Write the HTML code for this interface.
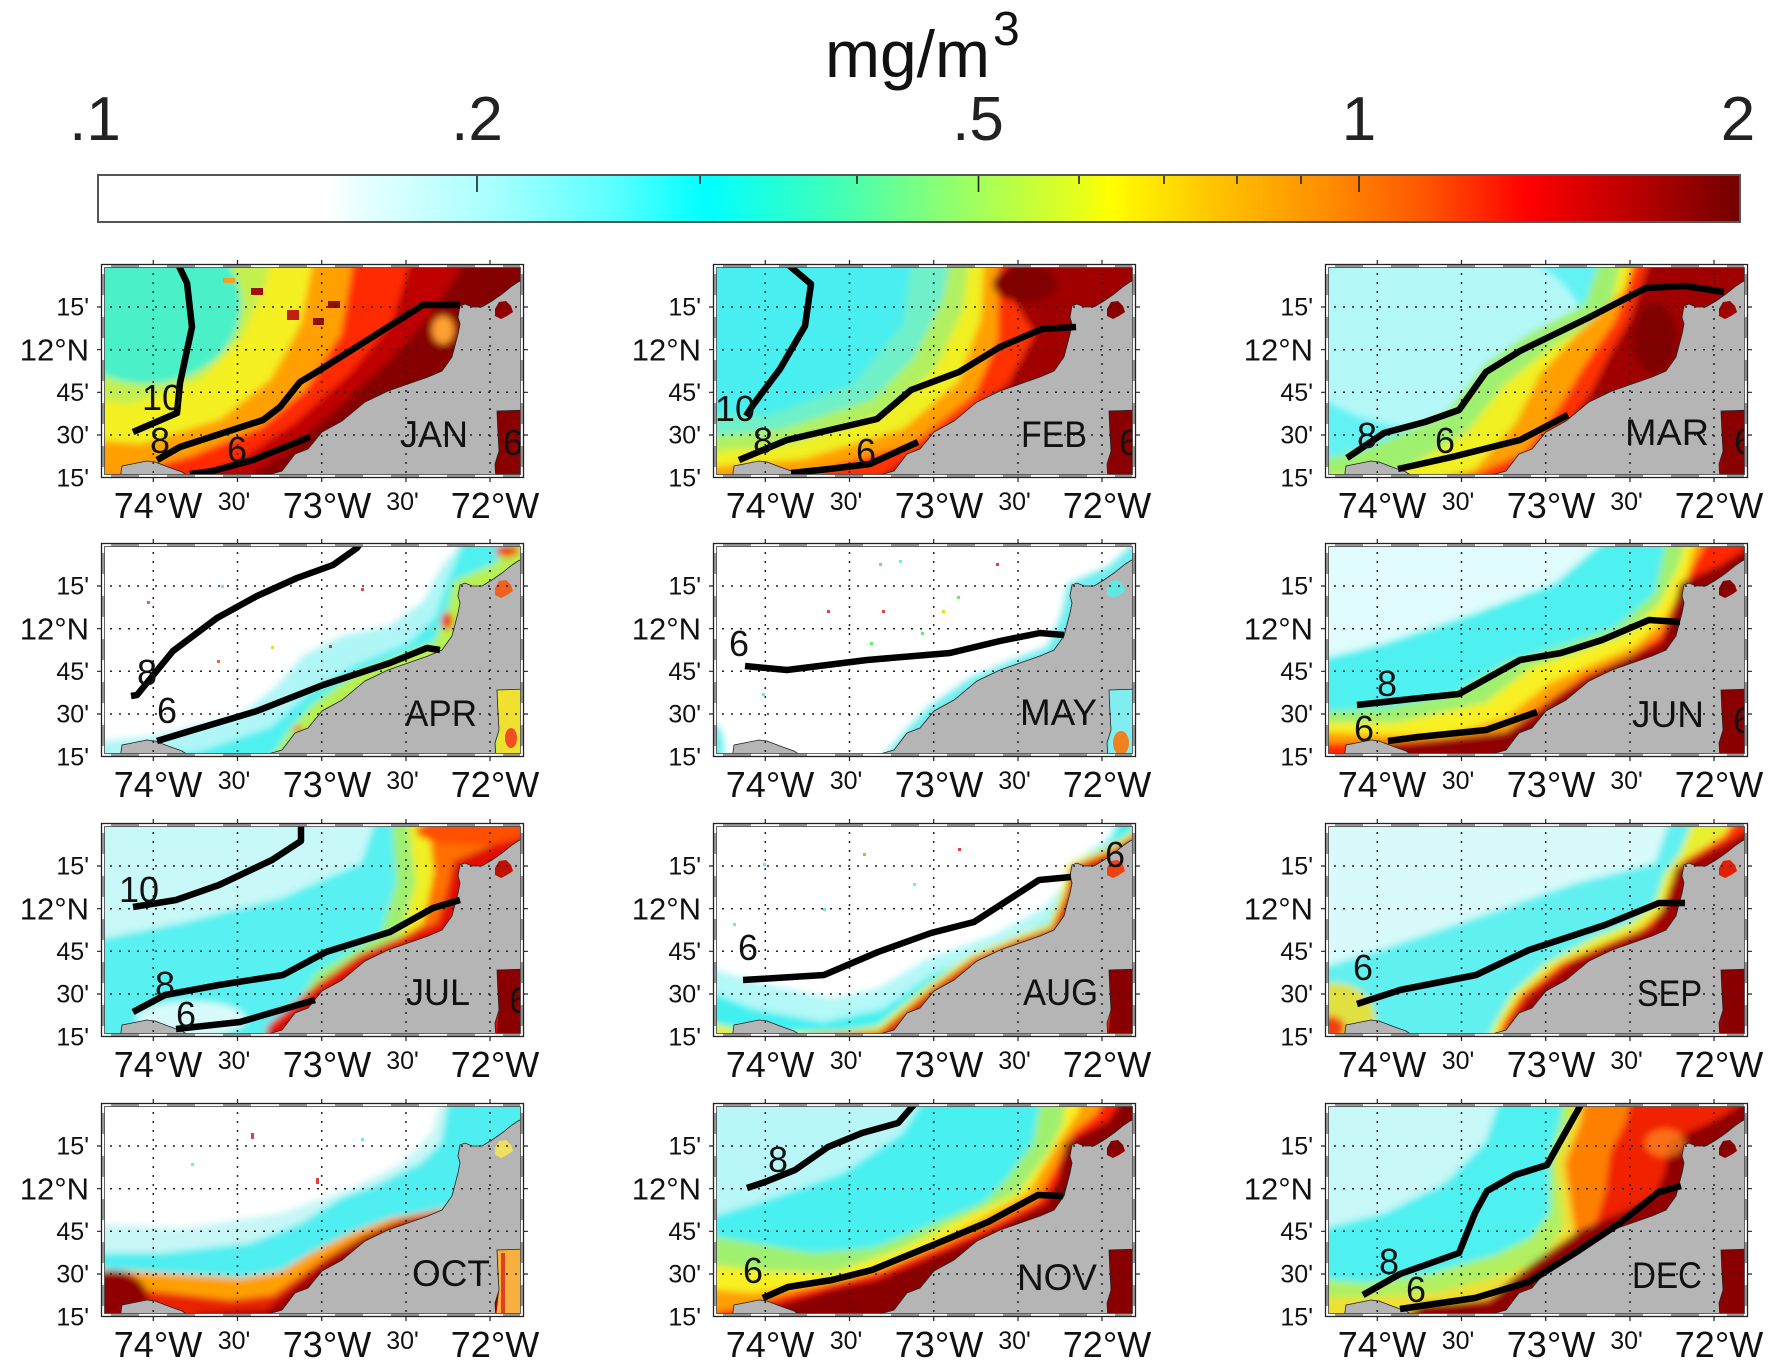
<!DOCTYPE html>
<html><head><meta charset="utf-8"><style>
html,body{margin:0;padding:0;background:#fff;}
svg{display:block;}
text{font-family:"Liberation Sans",Arial,sans-serif;fill:#111;}
.lm{font-size:25px;text-anchor:end;}
.ld{font-size:31px;text-anchor:end;}
.xd{font-size:36px;text-anchor:middle;}
.xm{font-size:25px;text-anchor:middle;}
.mo{font-size:37px;}
.cl{font-size:36px;}
.ct{fill:none;stroke:#000;stroke-width:6.5;stroke-linejoin:round;stroke-linecap:butt;}
.cb{font-size:62px;text-anchor:middle;fill:#222;}
</style></head><body>
<svg width="1772" height="1367" viewBox="0 0 1772 1367" xmlns="http://www.w3.org/2000/svg" xmlns:xlink="http://www.w3.org/1999/xlink">
<defs>
<clipPath id="pc"><rect x="0" y="0" width="423" height="214"/></clipPath>
<filter id="bl" x="-20%" y="-20%" width="140%" height="140%"><feGaussianBlur stdDeviation="3.5"/></filter>
<linearGradient id="cbg" gradientUnits="userSpaceOnUse" x1="98" y1="0" x2="1740" y2="0">
<stop offset="0" stop-color="#ffffff"/><stop offset="0.14" stop-color="#ffffff"/><stop offset="0.16" stop-color="#e8ffff"/>
<stop offset="0.24" stop-color="#a8ffff"/><stop offset="0.31" stop-color="#60ffff"/><stop offset="0.37" stop-color="#00ffff"/>
<stop offset="0.45" stop-color="#40ffb8"/><stop offset="0.536" stop-color="#a4ff5c"/><stop offset="0.60" stop-color="#e8ff18"/>
<stop offset="0.616" stop-color="#ffff00"/><stop offset="0.68" stop-color="#ffc400"/><stop offset="0.75" stop-color="#ff8c00"/>
<stop offset="0.81" stop-color="#ff5400"/><stop offset="0.87" stop-color="#ff0000"/><stop offset="0.93" stop-color="#c00000"/>
<stop offset="1" stop-color="#720000"/>
</linearGradient>
<path id="land" fill="#b5b5b5" stroke="#222" stroke-width="0.8" d="M167,216 L167,211 L181,207 L194,190 L207,185 L221,168 L241,157 L264,138 L287,127 L307,120 L327,113 L341,107 L351,93 L357,70 L359,60 L357,53 L359,42 L364,40 L371,43 L381,43 L391,37 L401,30 L411,22 L417,18 L426,14 L426,146 L396,147 L397,170 L398,187 L394,200 L395,216 Z"/>
<path id="bump" fill="#b5b5b5" stroke="#222" stroke-width="0.8" d="M19,216 L21,202 L31,200 L46,197 L54,198 L67,203 L81,208 L87,212 L97,216 Z"/>
<path id="gulf" d="M396,147 L424,146 L424,214 L395,214 L398,188 L397,170 Z"/>
<path id="lake" d="M394,45 L398,38 L405,37 L410,42 L412,48 L406,52 L400,55 L394,52 Z"/>
<path id="grid" fill="none" stroke="#222" stroke-width="1.5" stroke-dasharray="2 7" d="M52.3,0V214M136.5,0V214M220.7,0V214M305,0V214M389,0V214M0,43H423M0,85.7H423M0,128.3H423M0,171H423"/>
<g id="frame">
<path fill="#fff" fill-rule="evenodd" d="M0,0H423V214H0Z M3.5,3.5V210.5H419.5V3.5Z"/>
<g fill="#9a9a9a">
<rect x="10" y="0.5" width="28" height="3"/><rect x="66" y="0.5" width="28" height="3"/><rect x="122" y="0.5" width="28" height="3"/><rect x="178" y="0.5" width="28" height="3"/><rect x="234" y="0.5" width="28" height="3"/><rect x="290" y="0.5" width="28" height="3"/><rect x="346" y="0.5" width="28" height="3"/><rect x="402" y="0.5" width="17" height="3"/>
<rect x="10" y="210.5" width="28" height="3"/><rect x="66" y="210.5" width="28" height="3"/><rect x="122" y="210.5" width="28" height="3"/><rect x="178" y="210.5" width="28" height="3"/><rect x="234" y="210.5" width="28" height="3"/><rect x="290" y="210.5" width="28" height="3"/><rect x="346" y="210.5" width="28" height="3"/><rect x="402" y="210.5" width="17" height="3"/>
<rect x="0.5" y="10" width="3" height="21"/><rect x="0.5" y="53" width="3" height="21"/><rect x="0.5" y="96" width="3" height="21"/><rect x="0.5" y="139" width="3" height="21"/><rect x="0.5" y="182" width="3" height="21"/>
<rect x="419.5" y="10" width="3" height="21"/><rect x="419.5" y="53" width="3" height="21"/><rect x="419.5" y="96" width="3" height="21"/><rect x="419.5" y="139" width="3" height="21"/><rect x="419.5" y="182" width="3" height="21"/>
</g>
<rect x="0.5" y="0.5" width="422" height="213" fill="none" stroke="#222" stroke-width="1.3"/>
<rect x="3.5" y="3.5" width="416" height="207" fill="none" stroke="#444" stroke-width="0.8"/>
<path fill="none" stroke="#222" stroke-width="1.2" d="M52.3,0V-4M136.5,0V-4M220.7,0V-4M305,0V-4M389,0V-4M52.3,214V218M136.5,214V218M220.7,214V218M305,214V218M389,214V218M0,43H-4M0,85.7H-4M0,128.3H-4M0,171H-4M423,43H427M423,85.7H427M423,128.3H427M423,171H427"/>
</g>
</defs>

<rect x="0" y="0" width="1772" height="1367" fill="#fff"/>

<!-- title + colorbar -->
<text x="825" y="77" style="font-size:66px;fill:#111">mg/m</text>
<text x="993" y="45" style="font-size:48px;fill:#111">3</text>
<text class="cb" x="95" y="140">.1</text>
<text class="cb" x="477" y="140">.2</text>
<text class="cb" x="978" y="140">.5</text>
<text class="cb" x="1359" y="140">1</text>
<text class="cb" x="1738" y="140">2</text>
<rect x="98" y="175" width="1642" height="47" fill="url(#cbg)" stroke="#555" stroke-width="2"/>
<path stroke="#222" stroke-width="1.6" d="M477,176V192M978.5,176V192M1359,176V192M700,176V184M857,176V184M1079,176V184M1164,176V184M1237,176V184M1301,176V184"/>

<!-- JAN -->
<g transform="translate(101,264)">
<g clip-path="url(#pc)">
<g filter="url(#bl)">
<rect x="-40" y="-40" width="510" height="300" fill="#c4f050"/>
<ellipse cx="45" cy="40" rx="95" ry="80" fill="#48f0c8"/>
<polygon fill="#f4f020" points="-20,135 30,140 100,115 140,75 165,20 170,-20 470,-40 470,260 -40,260"/>
<polygon fill="#ffa000" points="-20,175 40,180 120,155 170,115 200,60 215,-20 470,-40 470,260 -40,260"/>
<polygon fill="#ff2a00" points="-20,225 30,208 90,192 160,163 205,125 240,70 255,-20 470,-40 470,260 -40,260"/>
<polygon fill="#c00000" points="60,230 140,195 195,158 250,108 290,60 315,-20 470,-40 470,260 -40,260"/>
<polygon fill="#860000" points="120,230 185,188 235,145 290,95 330,50 375,-20 470,-40 470,260 -40,260"/>
<ellipse cx="342" cy="66" rx="11" ry="14" fill="#ffa030"/>
</g>
<rect x="150" y="24" width="12" height="7" fill="#a01010"/><rect x="186" y="46" width="12" height="10" fill="#c02010"/><rect x="212" y="54" width="11" height="7" fill="#901010"/><rect x="227" y="37" width="12" height="7" fill="#901010"/><rect x="122" y="14" width="12" height="5" fill="#f0a020"/>
<use href="#gulf" fill="#8a0000"/>
<use href="#land"/><use href="#bump"/>
<use href="#lake" fill="#900000"/>
<use href="#grid"/>
<polyline class="ct" points="76,-2 86,19 91,63 79,119 76,149 32,168"/>
<polyline class="ct" points="56,196 79,183 162,156 179,143 199,118 219,106 322,41 359,41"/>
<polyline class="ct" points="89,210 112,207 152,196 209,173"/>
<text class="cl" x="41" y="146">10</text><text class="cl" x="49" y="189">8</text><text class="cl" x="126" y="198">6</text><text class="cl" x="402" y="191">6</text>
</g>
<use href="#frame"/>
<text class="mo" x="299" y="183" textLength="68" lengthAdjust="spacingAndGlyphs">JAN</text>
<text class="lm" x="-12" y="51.5">15'</text><text class="ld" x="-12" y="96.7">12°N</text><text class="lm" x="-12" y="136.8">45'</text><text class="lm" x="-12" y="179.5">30'</text><text class="lm" x="-12" y="222.5">15'</text>
<text class="xd" x="57" y="254">74°W</text><text class="xm" x="133" y="246">30'</text><text class="xd" x="226" y="254">73°W</text><text class="xm" x="301.5" y="246">30'</text><text class="xd" x="394" y="254">72°W</text>
</g>

<!-- FEB -->
<g transform="translate(713,264)">
<g clip-path="url(#pc)">
<g filter="url(#bl)">
<rect x="-40" y="-40" width="510" height="300" fill="#48eef0"/>
<polygon fill="#70f0c8" points="-20,150 60,150 140,120 190,60 200,-20 470,-40 470,260 -40,260"/>
<polygon fill="#b0f060" points="-20,175 70,165 160,135 200,95 230,35 240,-20 470,-40 470,260 -40,260"/>
<polygon fill="#f0f020" points="-20,190 80,180 170,150 222,105 250,45 258,-20 470,-40 470,260 -40,260"/>
<polygon fill="#ffa000" points="-20,205 90,195 190,165 245,118 268,55 272,-20 470,-40 470,260 -40,260"/>
<polygon fill="#ff3000" points="40,225 110,205 200,180 262,130 285,75 285,-20 470,-40 470,260 -40,260"/>
<polygon fill="#a00000" points="100,228 170,212 225,172 295,120 322,70 300,35 290,-20 470,-40 470,260 -40,260"/>
<ellipse cx="312" cy="20" rx="32" ry="18" fill="#800000"/>
</g>
<use href="#gulf" fill="#8a0000"/>
<use href="#land"/><use href="#bump"/>
<use href="#lake" fill="#8a0000"/>
<use href="#grid"/>
<polyline class="ct" points="72,-2 98,20 92,62 67,105 40,141 33,152"/>
<polyline class="ct" points="26,196 74,176 164,155 198,126 246,108 287,83 329,65 363,63"/>
<polyline class="ct" points="78,209 116,205 157,200 205,178"/>
<text class="cl" x="2" y="157">10</text><text class="cl" x="40" y="189">8</text><text class="cl" x="143" y="200">6</text><text class="cl" x="406" y="191">6</text>
</g>
<use href="#frame"/>
<text class="mo" x="308" y="183" textLength="66" lengthAdjust="spacingAndGlyphs">FEB</text>
<text class="lm" x="-12" y="51.5">15'</text><text class="ld" x="-12" y="96.7">12°N</text><text class="lm" x="-12" y="136.8">45'</text><text class="lm" x="-12" y="179.5">30'</text><text class="lm" x="-12" y="222.5">15'</text>
<text class="xd" x="57" y="254">74°W</text><text class="xm" x="133" y="246">30'</text><text class="xd" x="226" y="254">73°W</text><text class="xm" x="301.5" y="246">30'</text><text class="xd" x="394" y="254">72°W</text>
</g>

<!-- MAR -->
<g transform="translate(1325,264)">
<g clip-path="url(#pc)">
<g filter="url(#bl)">
<rect x="-40" y="-40" width="510" height="300" fill="#64f2f4"/>
<ellipse cx="110" cy="70" rx="150" ry="95" fill="#b4f8f8"/>
<polygon fill="#a0f070" points="-20,200 40,185 120,150 160,100 200,72 260,40 280,-20 470,-40 470,260 -40,260"/>
<polygon fill="#f0f020" points="-20,215 80,205 140,170 180,120 220,88 285,45 300,-20 470,-40 470,260 -40,260"/>
<polygon fill="#ffa000" points="60,228 150,205 190,160 215,110 250,72 300,25 310,-20 470,-40 470,260 -40,260"/>
<polygon fill="#ff3000" points="110,228 200,188 235,142 262,97 290,57 318,-20 470,-40 470,260 -40,260"/>
<polygon fill="#a00000" points="170,228 230,176 265,130 285,90 305,55 330,-20 470,-40 470,260 -40,260"/>
<ellipse cx="330" cy="75" rx="22" ry="35" fill="#800000"/>
</g>
<use href="#gulf" fill="#8a0000"/>
<use href="#land"/><use href="#bump"/>
<use href="#lake" fill="#a00000"/>
<use href="#grid"/>
<polyline class="ct" points="22,194 59,169 100,158 134,146 161,108 195,87 263,54 321,24 360,22 399,28"/>
<polyline class="ct" points="73,205 127,193 195,176 243,151"/>
<text class="cl" x="32" y="184">8</text><text class="cl" x="110" y="189">6</text><text class="cl" x="409" y="190">6</text>
</g>
<use href="#frame"/>
<text class="mo" x="300" y="181" textLength="84" lengthAdjust="spacingAndGlyphs">MAR</text>
<text class="lm" x="-12" y="51.5">15'</text><text class="ld" x="-12" y="96.7">12°N</text><text class="lm" x="-12" y="136.8">45'</text><text class="lm" x="-12" y="179.5">30'</text><text class="lm" x="-12" y="222.5">15'</text>
<text class="xd" x="57" y="254">74°W</text><text class="xm" x="133" y="246">30'</text><text class="xd" x="226" y="254">73°W</text><text class="xm" x="301.5" y="246">30'</text><text class="xd" x="394" y="254">72°W</text>
</g>

<!-- APR -->
<g transform="translate(101,543)">
<g clip-path="url(#pc)">
<g filter="url(#bl)">
<rect x="-40" y="-40" width="510" height="300" fill="#ffffff"/>
<polygon fill="#b0f6f6" points="-20,200 56,192 139,172 176,142 202,112 242,92 289,82 322,58 339,25 356,5 360,-20 470,-40 470,260 -40,260"/>
<polygon fill="#50f0f0" points="-20,216 100,208 170,184 212,146 258,120 308,100 334,74 349,32 370,-20 470,-40 470,260 -40,260"/>
<polygon fill="#b8f050" points="160,228 178,203 190,185 212,161 255,130 302,111 333,99 346,70 353,38 395,20 420,-20 470,-40 470,260 -40,260"/>
<ellipse cx="346" cy="78" rx="6" ry="9" fill="#f03010"/>
<ellipse cx="197" cy="186" rx="6" ry="3" fill="#f06010"/>
<ellipse cx="406" cy="8" rx="12" ry="6" fill="#f04000"/>
</g>
<rect x="46" y="58" width="3" height="3" fill="#f06040"/><rect x="116" y="117" width="3" height="3" fill="#f06040"/><rect x="170" y="103" width="3" height="3" fill="#e0e020"/><rect x="228" y="102" width="3" height="3" fill="#e03020"/><rect x="120" y="42" width="3" height="3" fill="#60f0f0"/><rect x="260" y="45" width="3" height="3" fill="#f04040"/>
<use href="#gulf" fill="#f0e030"/>
<ellipse cx="410" cy="195" rx="6" ry="10" fill="#f05020"/>
<use href="#land"/><use href="#bump"/>
<use href="#lake" fill="#f06020"/>
<use href="#grid"/>
<polyline class="ct" points="30,153 36,152 72,108 116,75 156,53 196,35 232,22 256,5 261,-2"/>
<polyline class="ct" points="56,198 89,188 156,168 222,142 289,120 326,105 339,107"/>
<text class="cl" x="36" y="142">8</text><text class="cl" x="56" y="180">6</text>
</g>
<use href="#frame"/>
<text class="mo" x="304" y="183" textLength="72" lengthAdjust="spacingAndGlyphs">APR</text>
<text class="lm" x="-12" y="51.5">15'</text><text class="ld" x="-12" y="96.7">12°N</text><text class="lm" x="-12" y="136.8">45'</text><text class="lm" x="-12" y="179.5">30'</text><text class="lm" x="-12" y="222.5">15'</text>
<text class="xd" x="57" y="254">74°W</text><text class="xm" x="133" y="246">30'</text><text class="xd" x="226" y="254">73°W</text><text class="xm" x="301.5" y="246">30'</text><text class="xd" x="394" y="254">72°W</text>
</g>

<!-- MAY -->
<g transform="translate(713,543)">
<g clip-path="url(#pc)">
<g filter="url(#bl)">
<rect x="-40" y="-40" width="510" height="300" fill="#ffffff"/>
<polygon fill="#70eef0" points="150,228 175,207 190,189 214,164 257,134 302,115 334,103 348,70 354,40 396,22 440,-20 470,-40 470,260 -40,260"/>
<ellipse cx="0" cy="205" rx="12" ry="25" fill="#70f0f0"/>
</g>
<rect x="166" y="20" width="3" height="3" fill="#60f060"/><rect x="186" y="17" width="3" height="3" fill="#60f0f0"/><rect x="283" y="20" width="3" height="3" fill="#e04040"/><rect x="114" y="67" width="3" height="3" fill="#e04040"/><rect x="169" y="67" width="3" height="3" fill="#e04040"/><rect x="229" y="67" width="3" height="3" fill="#e0e020"/><rect x="244" y="53" width="3" height="3" fill="#60f060"/><rect x="208" y="89" width="3" height="3" fill="#60f060"/><rect x="157" y="99" width="3" height="3" fill="#60f060"/><rect x="49" y="150" width="3" height="3" fill="#60f0f0"/>
<use href="#gulf" fill="#80eef0"/>
<ellipse cx="408" cy="200" rx="8" ry="12" fill="#f08020"/>
<use href="#land"/><use href="#bump"/>
<use href="#lake" fill="#60e8e0"/>
<use href="#grid"/>
<polyline class="ct" points="32,123 74,127 154,117 237,110 287,98 327,90 351,92"/>
<text class="cl" x="16" y="113">6</text>
</g>
<use href="#frame"/>
<text class="mo" x="307" y="182" textLength="77" lengthAdjust="spacingAndGlyphs">MAY</text>
<text class="lm" x="-12" y="51.5">15'</text><text class="ld" x="-12" y="96.7">12°N</text><text class="lm" x="-12" y="136.8">45'</text><text class="lm" x="-12" y="179.5">30'</text><text class="lm" x="-12" y="222.5">15'</text>
<text class="xd" x="57" y="254">74°W</text><text class="xm" x="133" y="246">30'</text><text class="xd" x="226" y="254">73°W</text><text class="xm" x="301.5" y="246">30'</text><text class="xd" x="394" y="254">72°W</text>
</g>

<!-- JUN -->
<g transform="translate(1325,543)">
<g clip-path="url(#pc)">
<g filter="url(#bl)">
<rect x="-40" y="-40" width="510" height="300" fill="#50f0f0"/>
<polygon fill="#e0fcfc" points="-20,120 60,100 150,70 230,40 300,-20 -40,-40"/>
<polygon fill="#a0f070" points="-20,170 60,165 130,150 180,120 230,105 290,85 330,50 345,-20 470,-40 470,260 -40,260"/>
<polygon fill="#f8f020" points="-20,180 70,180 160,160 205,125 250,110 300,92 335,60 355,20 365,-20 470,-40 470,260 -40,260"/>
<polygon fill="#ffa000" points="-20,188 50,192 120,192 180,175 225,140 270,120 310,103 340,75 360,40 375,-20 470,-40 470,260 -40,260"/>
<polygon fill="#ff2800" points="-20,200 40,200 90,198 180,190 220,160 260,132 305,113 335,92 350,60 370,20 390,-20 470,-40 470,260 -40,260"/>
<polygon fill="#900000" points="30,230 60,203 120,196 180,189 205,175 232,154 265,133 305,113 336,100 348,70 355,40 396,22 418,8 440,-20 470,-40 470,260 -40,260"/>
</g>
<use href="#gulf" fill="#8a0000"/>
<use href="#land"/><use href="#bump"/>
<use href="#lake" fill="#8a0000"/>
<use href="#grid"/>
<polyline class="ct" points="32,162 86,156 134,151 195,117 236,110 277,97 324,77 355,79"/>
<polyline class="ct" points="63,198 93,194 161,187 212,169"/>
<text class="cl" x="52" y="153">8</text><text class="cl" x="29" y="198">6</text><text class="cl" x="408" y="190">6</text>
</g>
<use href="#frame"/>
<text class="mo" x="307" y="184" textLength="72" lengthAdjust="spacingAndGlyphs">JUN</text>
<text class="lm" x="-12" y="51.5">15'</text><text class="ld" x="-12" y="96.7">12°N</text><text class="lm" x="-12" y="136.8">45'</text><text class="lm" x="-12" y="179.5">30'</text><text class="lm" x="-12" y="222.5">15'</text>
<text class="xd" x="57" y="254">74°W</text><text class="xm" x="133" y="246">30'</text><text class="xd" x="226" y="254">73°W</text><text class="xm" x="301.5" y="246">30'</text><text class="xd" x="394" y="254">72°W</text>
</g>

<!-- JUL -->
<g transform="translate(101,823)">
<g clip-path="url(#pc)">
<g filter="url(#bl)">
<rect x="-40" y="-40" width="510" height="300" fill="#58f0f0"/>
<polygon fill="#c8f8f8" points="-20,120 80,100 180,75 260,40 280,-20 -40,-40"/>
<ellipse cx="90" cy="196" rx="55" ry="18" fill="#d8fafa"/>
<polygon fill="#a0f070" points="150,228 190,190 215,150 245,132 280,110 295,60 290,-20 470,-40 470,260 -40,260"/>
<polygon fill="#f0f020" points="170,228 200,190 225,155 260,135 300,112 315,60 305,-20 470,-40 470,260 -40,260"/>
<polygon fill="#ff7000" points="180,228 210,185 240,152 280,128 322,100 333,50 325,-20 470,-40 470,260 -40,260"/>
<polygon fill="#e01000" points="160,228 167,202 190,183 216,161 259,131 305,112 336,100 346,69 353,38 396,20 418,6 440,-20 470,-40 470,260 -40,260"/>
<ellipse cx="370" cy="8" rx="55" ry="14" fill="#ff5000"/>
</g>
<use href="#gulf" fill="#8a0000"/>
<use href="#land"/><use href="#bump"/>
<use href="#lake" fill="#c01000"/>
<use href="#grid"/>
<polyline class="ct" points="200,-2 200,18 171,37 118,62 75,77 32,84"/>
<polyline class="ct" points="32,189 64,172 118,162 182,152 225,129 289,109 332,85 359,77"/>
<polyline class="ct" points="75,206 139,199 214,177"/>
<text class="cl" x="18" y="79">10</text><text class="cl" x="54" y="174">8</text><text class="cl" x="75" y="204">6</text><text class="cl" x="408" y="190">6</text>
</g>
<use href="#frame"/>
<text class="mo" x="305" y="182" textLength="64" lengthAdjust="spacingAndGlyphs">JUL</text>
<text class="lm" x="-12" y="51.5">15'</text><text class="ld" x="-12" y="96.7">12°N</text><text class="lm" x="-12" y="136.8">45'</text><text class="lm" x="-12" y="179.5">30'</text><text class="lm" x="-12" y="222.5">15'</text>
<text class="xd" x="57" y="254">74°W</text><text class="xm" x="133" y="246">30'</text><text class="xd" x="226" y="254">73°W</text><text class="xm" x="301.5" y="246">30'</text><text class="xd" x="394" y="254">72°W</text>
</g>

<!-- AUG -->
<g transform="translate(713,823)">
<g clip-path="url(#pc)">
<g filter="url(#bl)">
<rect x="-40" y="-40" width="510" height="300" fill="#ffffff"/>
<polygon fill="#b4f8f8" points="-20,140 50,160 120,175 165,165 215,135 280,112 330,85 352,60 362,38 395,14 410,-20 470,-40 470,260 -40,260"/>
<polygon fill="#40f0f0" points="-20,162 40,186 110,199 170,186 220,151 285,126 335,98 350,68 357,43 397,19 415,-20 470,-40 470,260 -40,260"/>
<polygon fill="#e8f030" points="-20,196 20,205 60,210 130,208 165,203 188,184 215,162 258,132 304,113 336,101 348,70 354,41 397,23 418,9 440,-20 470,-40 470,260 -40,260"/>
<polygon fill="#e02000" points="50,228 97,212 166,209 191,188 218,166 261,135 305,117 339,105 353,71 359,44 399,27 420,13 445,-20 470,-40 470,260 -40,260"/>
</g>
<rect x="50" y="40" width="3" height="3" fill="#60f0f0"/><rect x="150" y="30" width="3" height="3" fill="#f0a040"/><rect x="245" y="25" width="3" height="3" fill="#e04040"/><rect x="20" y="100" width="3" height="3" fill="#60f0f0"/><rect x="200" y="60" width="3" height="3" fill="#60f0f0"/><rect x="110" y="85" width="3" height="3" fill="#60f0f0"/>
<use href="#gulf" fill="#8a0000"/>
<use href="#land"/><use href="#bump"/>
<use href="#lake" fill="#f04010"/>
<use href="#grid"/>
<polyline class="ct" points="30,157 111,152 165,129 218,110 261,99 326,57 358,54"/>
<text class="cl" x="25" y="137">6</text><text class="cl" x="392" y="44">6</text>
</g>
<use href="#frame"/>
<text class="mo" x="310" y="182" textLength="75" lengthAdjust="spacingAndGlyphs">AUG</text>
<text class="lm" x="-12" y="51.5">15'</text><text class="ld" x="-12" y="96.7">12°N</text><text class="lm" x="-12" y="136.8">45'</text><text class="lm" x="-12" y="179.5">30'</text><text class="lm" x="-12" y="222.5">15'</text>
<text class="xd" x="57" y="254">74°W</text><text class="xm" x="133" y="246">30'</text><text class="xd" x="226" y="254">73°W</text><text class="xm" x="301.5" y="246">30'</text><text class="xd" x="394" y="254">72°W</text>
</g>

<!-- SEP -->
<g transform="translate(1325,823)">
<g clip-path="url(#pc)">
<g filter="url(#bl)">
<rect x="-40" y="-40" width="510" height="300" fill="#60f0f0"/>
<polygon fill="#d8fafa" points="-20,150 60,125 150,95 250,60 330,40 350,-20 -40,-40"/>
<ellipse cx="10" cy="195" rx="40" ry="35" fill="#e0e040"/>
<ellipse cx="5" cy="205" rx="15" ry="12" fill="#f04010"/>
<polygon fill="#e8f030" points="158,228 170,200 188,170 222,140 268,115 305,100 330,80 340,50 355,30 375,-20 470,-40 470,260 -40,260"/>
<polygon fill="#ff3000" points="168,228 178,200 196,172 236,140 282,120 316,106 336,88 346,60 358,38 400,12 420,-20 470,-40 470,260 -40,260"/>
<polygon fill="#a00000" points="177,228 186,198 205,172 248,138 293,118 327,104 342,76 351,44 398,22 420,9 445,-20 470,-40 470,260 -40,260"/>
</g>
<use href="#gulf" fill="#8a0000"/>
<use href="#land"/><use href="#bump"/>
<use href="#lake" fill="#e02000"/>
<use href="#grid"/>
<polyline class="ct" points="32,181 75,167 151,152 204,127 280,102 334,80 360,80"/>
<text class="cl" x="28" y="157">6</text>
</g>
<use href="#frame"/>
<text class="mo" x="312" y="183" textLength="65" lengthAdjust="spacingAndGlyphs">SEP</text>
<text class="lm" x="-12" y="51.5">15'</text><text class="ld" x="-12" y="96.7">12°N</text><text class="lm" x="-12" y="136.8">45'</text><text class="lm" x="-12" y="179.5">30'</text><text class="lm" x="-12" y="222.5">15'</text>
<text class="xd" x="57" y="254">74°W</text><text class="xm" x="133" y="246">30'</text><text class="xd" x="226" y="254">73°W</text><text class="xm" x="301.5" y="246">30'</text><text class="xd" x="394" y="254">72°W</text>
</g>

<!-- OCT -->
<g transform="translate(101,1103)">
<g clip-path="url(#pc)">
<g filter="url(#bl)">
<rect x="-40" y="-40" width="510" height="300" fill="#ffffff"/>
<polygon fill="#c8f6f6" points="-20,120 80,125 180,110 250,85 300,60 330,30 345,-20 470,-40 470,260 -40,260"/>
<polygon fill="#50eef0" points="-20,150 60,150 150,140 200,120 240,95 280,80 320,60 340,40 350,-20 470,-40 470,260 -40,260"/>
<polygon fill="#ffa000" points="-20,165 60,170 140,175 180,168 210,150 250,130 290,115 320,110 345,105 470,100 470,260 -40,260"/>
<polygon fill="#e82000" points="-20,178 50,188 130,197 172,192 198,174 226,154 265,132 300,117 330,110 470,105 470,260 -40,260"/>
<ellipse cx="12" cy="196" rx="35" ry="28" fill="#900000"/>
<polygon fill="#a00000" points="90,228 97,210 165,207 189,187 216,165 259,135 305,117 470,112 470,260 -40,260"/>
</g>
<rect x="150" y="30" width="3" height="6" fill="#e04040"/><rect x="215" y="75" width="3" height="6" fill="#e04040"/><rect x="260" y="35" width="3" height="3" fill="#60f0f0"/><rect x="90" y="60" width="3" height="3" fill="#60f0f0"/>
<use href="#gulf" fill="#f8b040"/>
<rect x="400" y="150" width="4" height="60" fill="#e04020"/>
<use href="#land"/><use href="#bump"/>
<use href="#lake" fill="#f0e060"/>
<use href="#grid"/>
</g>
<use href="#frame"/>
<text class="mo" x="311" y="183" textLength="78" lengthAdjust="spacingAndGlyphs">OCT</text>
<text class="lm" x="-12" y="51.5">15'</text><text class="ld" x="-12" y="96.7">12°N</text><text class="lm" x="-12" y="136.8">45'</text><text class="lm" x="-12" y="179.5">30'</text><text class="lm" x="-12" y="222.5">15'</text>
<text class="xd" x="57" y="254">74°W</text><text class="xm" x="133" y="246">30'</text><text class="xd" x="226" y="254">73°W</text><text class="xm" x="301.5" y="246">30'</text><text class="xd" x="394" y="254">72°W</text>
</g>

<!-- NOV -->
<g transform="translate(713,1103)">
<g clip-path="url(#pc)">
<g filter="url(#bl)">
<rect x="-40" y="-40" width="510" height="300" fill="#48f0f0"/>
<polygon fill="#b8f6f8" points="-20,120 60,95 130,70 190,30 220,-20 -40,-40"/>
<polygon fill="#a0f070" points="-20,130 40,140 100,150 160,145 210,125 270,100 290,80 320,40 330,-20 470,-40 470,260 -40,260"/>
<polygon fill="#f8f020" points="-20,160 50,168 120,170 190,145 250,115 305,90 335,50 350,20 355,-20 470,-40 470,260 -40,260"/>
<polygon fill="#ffa000" points="-20,185 40,190 120,178 170,165 228,138 315,90 345,40 365,10 372,-20 470,-40 470,260 -40,260"/>
<polygon fill="#ff2000" points="-20,212 30,205 60,195 119,180 160,170 228,143 280,120 325,97 345,60 360,30 385,10 392,-20 470,-40 470,260 -40,260"/>
<polygon fill="#8a0000" points="40,230 60,203 119,186 165,176 232,148 280,127 333,100 346,75 352,40 395,18 420,-20 470,-40 470,260 -40,260"/>
</g>
<use href="#gulf" fill="#8a0000"/>
<use href="#land"/><use href="#bump"/>
<use href="#lake" fill="#8a0000"/>
<use href="#grid"/>
<polyline class="ct" points="34,85 52,79 82,67 115,44 149,30 185,20 205,-3"/>
<polyline class="ct" points="50,195 75,184 119,177 159,167 225,140 275,119 325,92 350,93"/>
<text class="cl" x="55" y="69">8</text><text class="cl" x="30" y="180">6</text>
</g>
<use href="#frame"/>
<text class="mo" x="304" y="187" textLength="80" lengthAdjust="spacingAndGlyphs">NOV</text>
<text class="lm" x="-12" y="51.5">15'</text><text class="ld" x="-12" y="96.7">12°N</text><text class="lm" x="-12" y="136.8">45'</text><text class="lm" x="-12" y="179.5">30'</text><text class="lm" x="-12" y="222.5">15'</text>
<text class="xd" x="57" y="254">74°W</text><text class="xm" x="133" y="246">30'</text><text class="xd" x="226" y="254">73°W</text><text class="xm" x="301.5" y="246">30'</text><text class="xd" x="394" y="254">72°W</text>
</g>

<!-- DEC -->
<g transform="translate(1325,1103)">
<g clip-path="url(#pc)">
<g filter="url(#bl)">
<rect x="-40" y="-40" width="510" height="300" fill="#50f0f0"/>
<polygon fill="#c8f8f8" points="-20,130 60,110 120,80 160,40 180,-20 -40,-40"/>
<polygon fill="#b0f060" points="-20,175 40,180 100,172 170,152 205,135 225,110 225,80 225,50 235,20 240,-20 470,-40 470,260 -40,260"/>
<polygon fill="#f0e030" points="-20,195 40,195 110,190 170,175 215,158 238,125 235,90 230,60 245,20 250,-20 470,-40 470,260 -40,260"/>
<polygon fill="#ff8000" points="40,228 100,205 160,195 225,168 250,130 245,95 240,60 255,20 262,-20 470,-40 470,260 -40,260"/>
<polygon fill="#f02000" points="80,228 140,210 200,190 240,165 268,128 280,90 285,50 300,20 310,-20 470,-40 470,260 -40,260"/>
<polygon fill="#900000" points="60,228 97,201 163,198 185,178 212,157 255,127 302,107 330,93 340,69 345,38 393,16 415,2 440,-20 470,-40 470,260 -40,260"/>
<ellipse cx="340" cy="40" rx="20" ry="14" fill="#ff9020" opacity="0.7"/>
</g>
<use href="#gulf" fill="#8a0000"/>
<use href="#land"/><use href="#bump"/>
<use href="#lake" fill="#8a0000"/>
<use href="#grid"/>
<polyline class="ct" points="38,192 75,171 134,150 150,110 162,88 190,72 222,62 258,-2"/>
<polyline class="ct" points="75,206 150,195 204,179 250,150 295,120 334,89 356,83"/>
<text class="cl" x="54" y="171">8</text><text class="cl" x="81" y="199">6</text>
</g>
<use href="#frame"/>
<text class="mo" x="307" y="185" textLength="70" lengthAdjust="spacingAndGlyphs">DEC</text>
<text class="lm" x="-12" y="51.5">15'</text><text class="ld" x="-12" y="96.7">12°N</text><text class="lm" x="-12" y="136.8">45'</text><text class="lm" x="-12" y="179.5">30'</text><text class="lm" x="-12" y="222.5">15'</text>
<text class="xd" x="57" y="254">74°W</text><text class="xm" x="133" y="246">30'</text><text class="xd" x="226" y="254">73°W</text><text class="xm" x="301.5" y="246">30'</text><text class="xd" x="394" y="254">72°W</text>
</g>

</svg>
</body></html>
